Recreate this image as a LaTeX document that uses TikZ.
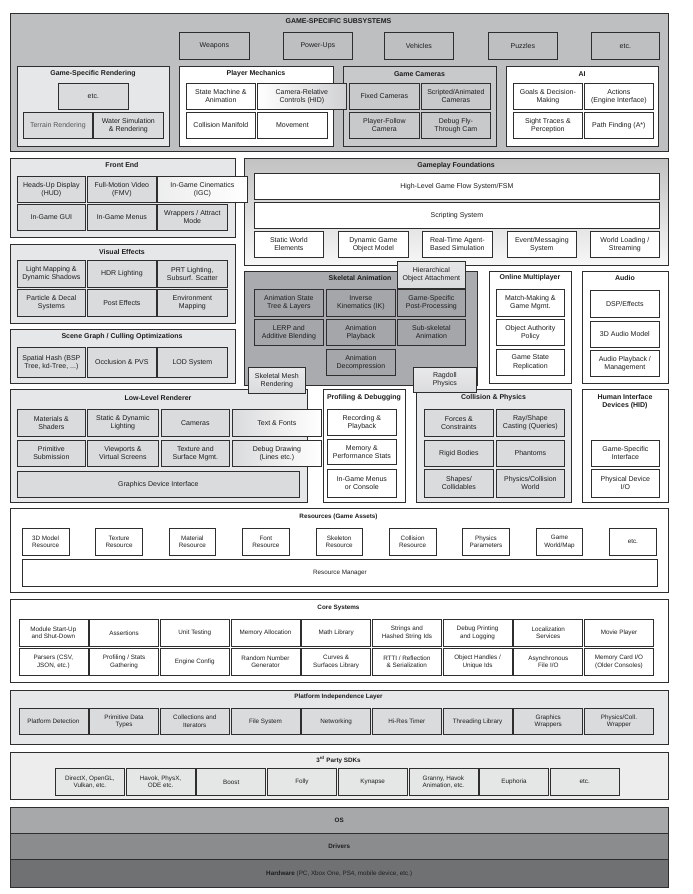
\documentclass[tikz,border=0pt]{standalone}
\usepackage{fontspec}
\setmainfont{Liberation Sans}
\definecolor{bord}{HTML}{2E2E2E}
\definecolor{txt}{HTML}{1E1E1E}
\definecolor{gA}{HTML}{BDBFC1}
\definecolor{gL}{HTML}{E6E7E8}
\definecolor{gLb}{HTML}{DADBDC}
\definecolor{gC}{HTML}{C8C9CB}
\definecolor{gS}{HTML}{A9ABAE}
\definecolor{gSb}{HTML}{A4A6A9}
\definecolor{gSD}{HTML}{EDEDED}
\definecolor{gOS}{HTML}{A6A8AA}
\definecolor{gDr}{HTML}{8B8C8E}
\definecolor{gHw}{HTML}{707173}
\newcommand\fs{\fontsize{7}{8.2}\selectfont}
\newcommand\fsb{\fontsize{7}{8.2}\selectfont\bfseries}
\newcommand\fss{\fontsize{6.3}{7.4}\selectfont}
\newcommand\fssb{\fontsize{6.3}{7.4}\selectfont\bfseries}
\tikzset{
  bx/.style={draw=bord, line width=0.75pt, inner sep=0.5pt, align=center, font=\fs, text=txt},
  ct/.style={draw=bord, line width=0.95pt},
  sm/.style={font=\fss},
  ttl/.style={font=\fsb, inner sep=0pt, text=txt, align=center},
  ttls/.style={font=\fssb, inner sep=0pt, text=txt, align=center},
}
\newcommand\bx[7]{\node[bx,#6,anchor=north west,minimum width={(#4)*1pt-(#2)*1pt},minimum height={(#5)*1pt-(#3)*1pt}] (#1) at (#2,#3) {#7};}
\begin{document}
\begin{tikzpicture}[x=1pt,y=-1pt]
\useasboundingbox[fill=white] (0,0) rectangle (693,894);

% ---------------- Game-specific subsystems
\bx{gss}{9.5}{12.5}{668}{151}{ct,fill=gA}{}
\node[ttl] (t-gss) at (338.5,21) {GAME-SPECIFIC SUBSYSTEMS};
\bx{weap}{179}{32}{249}{59}{fill=gA}{Weapons}
\bx{powu}{283}{32}{352}{59}{fill=gA}{Power-Ups}
\bx{vehi}{384}{32}{453}{59}{fill=gA}{Vehicles}
\bx{puzz}{488}{32}{557}{59}{fill=gA}{Puzzles}
\bx{etc1}{591}{32}{659}{59}{fill=gA}{etc.}

\bx{gsr}{17}{66}{169}{146}{ct,fill=gL}{}
\node[ttl] (t-gsr) at (93,74) {Game-Specific Rendering};
\bx{gsr-etc}{58}{83}{128}{109}{fill=gLb}{etc.}
\bx{terr}{23}{112}{92}{138}{fill=gLb,text=txt!75}{Terrain Rendering}
\bx{wate}{93}{112}{163}{138}{fill=gLb}{Water Simulation\\\& Rendering}

\bx{pm}{179}{66}{333}{146}{ct,fill=white}{}
\node[ttl] (t-pm) at (256,74) {Player Mechanics};
\bx{stm}{186}{83}{255}{109}{fill=white}{State Machine \&\\Animation}
\bx{colm}{186}{112}{255}{138}{fill=white}{Collision Manifold}
\bx{move}{257}{112}{327}{138}{fill=white}{Movement}

\bx{gc}{343}{66}{496}{146}{ct,fill=gC}{}
\node[ttl] (t-gc) at (419.5,74) {Game Cameras};
\bx{fixc}{349}{83}{419}{109}{fill=gC}{Fixed Cameras}
\bx{scrc}{421}{83}{490}{109}{fill=gC}{Scripted/Animated\\Cameras}
\bx{plfc}{349}{112}{419}{138}{fill=gC}{Player-Follow\\Camera}
\bx{dbgc}{421}{112}{490}{138}{fill=gC}{Debug Fly-\\Through Cam}
\bx{camrel}{257}{83}{346}{109}{left color=white,right color=gC!85}{Camera-Relative\\Controls (HID)}

\bx{ai}{506}{66}{658}{146}{ct,fill=white}{}
\node[ttl] (t-ai) at (582,74) {AI};
\bx{goal}{513}{83}{582}{109}{fill=white}{Goals \& Decision-\\Making}
\bx{acti}{584}{83}{653}{109}{fill=white}{Actions\\(Engine Interface)}
\bx{sigh}{513}{112}{582}{138}{fill=white}{Sight Traces \&\\Perception}
\bx{path}{584}{112}{653}{138}{fill=white}{Path Finding (A*)}

% ---------------- Front end
\bx{fe}{9.5}{158}{235}{237}{ct,fill=gL}{}
\node[ttl] (t-fe) at (122,165) {Front End};
\bx{hud}{17}{176}{85}{202}{fill=gLb}{Heads-Up Display\\(HUD)}
\bx{fmv}{87}{176}{156}{202}{fill=gLb}{Full-Motion Video\\(FMV)}
\bx{gui}{17}{204}{85}{230}{fill=gLb}{In-Game GUI}
\bx{menu}{87}{204}{156}{230}{fill=gLb}{In-Game Menus}
\bx{wrap}{157}{204}{227}{230}{fill=gLb}{Wrappers / Attract\\Mode}

% ---------------- Visual effects
\bx{vfx}{9.5}{244}{235}{323}{ct,fill=gL}{}
\node[ttl] (t-vfx) at (122,252) {Visual Effects};
\bx{lmap}{17}{260}{85}{287}{fill=gLb}{Light Mapping \&\\Dynamic Shadows}
\bx{hdr}{87}{260}{156}{287}{fill=gLb}{HDR Lighting}
\bx{prt}{157}{260}{227}{287}{fill=gLb}{PRT Lighting,\\Subsurf. Scatter}
\bx{part}{17}{289}{85}{316}{fill=gLb}{Particle \& Decal\\Systems}
\bx{post}{87}{289}{156}{316}{fill=gLb}{Post Effects}
\bx{envm}{157}{289}{227}{316}{fill=gLb}{Environment\\Mapping}

% ---------------- Scene graph
\bx{sg}{9.5}{329}{235}{383}{ct,fill=gL}{}
\node[ttl] (t-sg) at (122,337) {Scene Graph / Culling Optimizations};
\bx{spat}{17}{347}{85}{377}{fill=gLb}{Spatial Hash (BSP\\Tree, kd-Tree, ...)}
\bx{occl}{87}{347}{156}{377}{fill=gLb}{Occlusion \& PVS}
\bx{lod}{157}{347}{227}{377}{fill=gLb}{LOD System}

% ---------------- Gameplay foundations
\bx{gf}{244}{158}{668}{265}{ct,top color=black!24,bottom color=black!3}{}
\node[ttl] (t-gf) at (456,166) {Gameplay Foundations};
\bx{hlgf}{254}{173}{659}{199}{fill=white}{High-Level Game Flow System/FSM}
\bx{scri}{254}{202}{659}{228}{fill=white}{Scripting System}
\bx{stwe}{254}{231}{323}{257}{fill=white}{Static World\\Elements}
\bx{dgom}{338}{231}{408}{257}{fill=white}{Dynamic Game\\Object Model}
\bx{rtab}{422}{231}{492}{257}{fill=white}{Real-Time Agent-\\Based Simulation}
\bx{evms}{507}{231}{576}{257}{fill=white}{Event/Messaging\\System}
\bx{wlds}{590}{231}{659}{257}{fill=white}{World Loading /\\Streaming}
\bx{igc}{157}{176}{247}{202}{left color=gLb!50!white,right color=white}{In-Game Cinematics\\(IGC)}

% ---------------- Skeletal animation
\bx{sa}{244}{271}{477}{385}{ct,fill=gS}{}
\node[ttl] (t-sa) at (360,278) {Skeletal Animation};
\bx{hoa}{397}{261}{465}{288}{top color=gLb!70!white,bottom color=gLb}{Hierarchical\\Object Attachment}
\bx{astl}{254}{289}{323}{316}{fill=gSb}{Animation State\\Tree \& Layers}
\bx{ik}{326}{289}{395}{316}{fill=gSb}{Inverse\\Kinematics (IK)}
\bx{gspp}{397}{289}{465}{316}{fill=gSb}{Game-Specific\\Post-Processing}
\bx{lerp}{254}{319}{323}{345}{fill=gSb}{LERP and\\Additive Blending}
\bx{apb}{326}{319}{395}{345}{fill=gSb}{Animation\\Playback}
\bx{subs}{397}{319}{465}{345}{fill=gSb}{Sub-skeletal\\Animation}
\bx{adec}{326}{349}{395}{375}{fill=gSb}{Animation\\Decompression}

% ---------------- Online multiplayer
\bx{om}{489}{271}{571}{383}{ct,fill=white}{}
\node[ttl] (t-om) at (530,278) {Online Multiplayer};
\bx{mmgm}{496}{289}{564}{316}{fill=white}{Match-Making \&\\Game Mgmt.}
\bx{oap}{496}{319}{564}{345}{fill=white}{Object Authority\\Policy}
\bx{gsrp}{496}{349}{564}{375}{fill=white}{Game State\\Replication}

% ---------------- Audio
\bx{au}{582}{271}{668}{383}{ct,fill=white}{}
\node[ttl] (t-au) at (625,278) {Audio};
\bx{dsp}{590}{290}{659}{317}{fill=white}{DSP/Effects}
\bx{a3d}{590}{321}{659}{347}{fill=white}{3D Audio Model}
\bx{apm}{590}{350}{659}{376}{fill=white}{Audio Playback /\\Management}

% ---------------- Low-level renderer
\bx{llr}{9.5}{389}{307}{502}{ct,fill=gL}{}
\node[ttl] (t-llr) at (158,398) {Low-Level Renderer};
\bx{mats}{17}{409}{85}{436}{fill=gLb}{Materials \&\\Shaders}
\bx{sdl}{87}{409}{158}{436}{fill=gLb}{Static \& Dynamic\\Lighting}
\bx{cams}{161}{409}{229}{436}{fill=gLb}{Cameras}
\bx{prim}{17}{440}{85}{466}{fill=gLb}{Primitive\\Submission}
\bx{vpvs}{87}{440}{158}{466}{fill=gLb}{Viewports \&\\Virtual Screens}
\bx{tsm}{161}{440}{229}{466}{fill=gLb}{Texture and\\Surface Mgmt.}
\bx{gdi}{17}{471}{299}{497}{fill=gLb}{Graphics Device Interface}

% ---------------- Profiling
\bx{pd}{323}{389}{405}{502}{ct,fill=white}{}
\node[ttl] (t-pd) at (364,398) {Profiling \& Debugging};
\bx{recp}{327}{409}{396}{435}{fill=white}{Recording \&\\Playback}
\bx{memp}{327}{439}{396}{464}{fill=white}{Memory \&\\Performance Stats}
\bx{igmc}{327}{469}{396}{497}{fill=white}{In-Game Menus\\or Console}
\bx{txtf}{232}{409}{321}{436}{left color=gLb,right color=white}{Text \& Fonts}
\bx{dbgd}{232}{440}{321}{466}{left color=gLb,right color=white}{Debug Drawing\\(Lines etc.)}

% ---------------- Collision & physics
\bx{cp}{416}{389}{571}{502}{ct,fill=gL}{}
\node[ttl] (t-cp) at (493.5,398) {Collision \& Physics};
\bx{forc}{424}{409}{493}{436}{fill=gLb}{Forces \&\\Constraints}
\bx{rays}{496}{409}{564}{436}{fill=gLb}{Ray/Shape\\Casting (Queries)}
\bx{rigb}{424}{440}{493}{466}{fill=gLb}{Rigid Bodies}
\bx{phan}{496}{440}{564}{466}{fill=gLb}{Phantoms}
\bx{shap}{424}{469}{493}{497}{fill=gLb}{Shapes/\\Collidables}
\bx{pcw}{496}{469}{564}{497}{fill=gLb}{Physics/Collision\\World}

% ---------------- HID
\bx{hid}{582}{389}{668}{502}{ct,fill=white}{}
\node[ttl] (t-hid) at (625,402) {Human Interface\\Devices (HID)};
\bx{gsi}{591}{440}{659}{466}{fill=white}{Game-Specific\\Interface}
\bx{pdio}{591}{469}{659}{497}{fill=white}{Physical Device\\I/O}

% overlapping boxes
\bx{smr}{248}{367}{305}{393}{top color=gLb!60!white,bottom color=gLb}{Skeletal Mesh\\Rendering}
\bx{ragd}{413}{367}{476}{392}{top color=gLb!60!white,bottom color=gLb}{Ragdoll\\Physics}

% ---------------- Resources
\bx{res}{9.5}{508}{668}{592}{ct,fill=white}{}
\node[ttls] (t-res) at (338.5,517) {Resources (Game Assets)};
\foreach \t [count=\i from 0] in {{3D Model\\Resource},{Texture\\Resource},{Material\\Resource},{Font\\Resource},{Skeleton\\Resource},{Collision\\Resource},{Physics\\Parameters},{Game\\World/Map},{etc.}}{
  \pgfmathsetmacro\xa{22+73.4*\i}
  \pgfmathsetmacro\xb{\xa+46.5}
  \bx{res-\i}{\xa}{528}{\xb}{555}{sm,fill=white}{\t}
}
\bx{resm}{22}{559}{657}{586}{sm,fill=white}{Resource Manager}

% ---------------- Core systems
\bx{core}{9.5}{599}{668}{682}{ct,fill=white}{}
\node[ttls] (t-core) at (338.5,608) {Core Systems};
\foreach \t [count=\i from 0] in {{Module Start-Up\\and Shut-Down},{Assertions},{Unit Testing},{Memory Allocation},{Math Library},{Strings and\\Hashed String Ids},{Debug Printing\\and Logging},{Localization\\Services},{Movie Player}}{
  \pgfmathsetmacro\xa{18.5+70.7*\i}
  \pgfmathsetmacro\xb{\xa+69}
  \bx{cs1-\i}{\xa}{619}{\xb}{646}{sm,fill=white}{\t}
}
\foreach \t [count=\i from 0] in {{Parsers (CSV,\\JSON, etc.)},{Profiling / Stats\\Gathering},{Engine Config},{Random Number\\Generator},{Curves \&\\Surfaces Library},{RTTI / Reflection\\\& Serialization},{Object Handles /\\Unique Ids},{Asynchronous\\File I/O},{Memory Card I/O\\(Older Consoles)}}{
  \pgfmathsetmacro\xa{18.5+70.7*\i}
  \pgfmathsetmacro\xb{\xa+69}
  \bx{cs2-\i}{\xa}{648}{\xb}{675}{sm,fill=white}{\t}
}

% ---------------- Platform independence
\bx{pil}{9.5}{690}{668}{744}{ct,fill=gL}{}
\node[ttls] (t-pil) at (338.5,697) {Platform Independence Layer};
\foreach \t [count=\i from 0] in {{Platform Detection},{Primitive Data\\Types},{Collections and\\Iterators},{File System},{Networking},{Hi-Res Timer},{Threading Library},{Graphics\\Wrappers},{Physics/Coll.\\Wrapper}}{
  \pgfmathsetmacro\xa{18.5+70.7*\i}
  \pgfmathsetmacro\xb{\xa+69}
  \bx{pil-\i}{\xa}{708}{\xb}{734}{sm,fill=gLb}{\t}
}

% ---------------- 3rd party SDKs
\bx{sdk}{9.5}{752}{668}{799}{ct,fill=gSD}{}
\node[ttls] (t-sdk) at (338.5,760) {3\textsuperscript{rd} Party SDKs};
\foreach \t [count=\i from 0] in {{DirectX, OpenGL,\\Vulkan, etc.},{Havok, PhysX,\\ODE etc.},{Boost},{Folly},{Kynapse},{Granny, Havok\\Animation, etc.},{Euphoria},{etc.}}{
  \pgfmathsetmacro\xa{55+70.7*\i}
  \pgfmathsetmacro\xb{\xa+69}
  \bx{sdk-\i}{\xa}{768}{\xb}{795}{sm,fill=gLb!70!white}{\t}
}

% ---------------- OS / Drivers / Hardware
\bx{os}{9.5}{807}{668}{833}{ct,fill=gOS,font=\fssb}{OS}
\bx{drv}{9.5}{833}{668}{859}{ct,fill=gDr,font=\fssb}{Drivers}
\bx{hw}{9.5}{859}{668}{887}{ct,fill=gHw,font=\fss}{\textbf{Hardware} (PC, Xbox One, PS4, mobile device, etc.)}
\end{tikzpicture}
\end{document}
